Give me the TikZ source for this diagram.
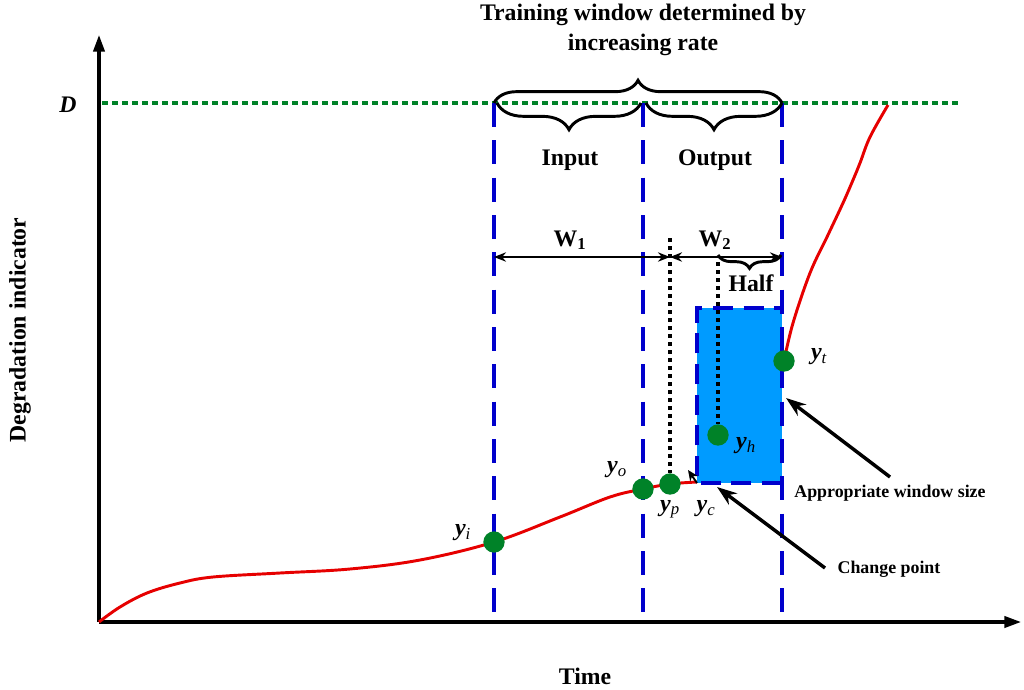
\documentclass[tikz,border=0pt]{standalone}
\usepackage{fontspec}
\setmainfont{Liberation Serif}
\usetikzlibrary{arrows.meta,decorations.pathreplacing,calc}
\definecolor{dblue}{RGB}{0,0,204}
\definecolor{boxblue}{RGB}{0,155,255}
\definecolor{dgreen}{RGB}{0,130,40}
\definecolor{dred}{RGB}{230,0,0}
\begin{document}
\begin{tikzpicture}[x=0.75pt,y=-0.75pt,
  axis/.style={line width=2.3pt,-{Triangle[length=12.5pt,width=8.5pt]}},
  bluedash/.style={draw=dblue,line width=2.3pt,dash pattern=on 18pt off 10pt},
  boxdash/.style={draw=dblue,line width=2.3pt,dash pattern=on 15pt off 8pt},
  greendot/.style={draw=dgreen,line width=2.3pt,dash pattern=on 4.5pt off 3pt},
  blackdot/.style={draw=black,line width=2.6pt,dash pattern=on 3pt off 3pt},
  curve/.style={draw=dred,line width=2.2pt},
  dot/.style={circle,fill=dgreen,minimum size=16pt,inner sep=0pt},
  bigtext/.style={font=\fontsize{17.8}{23}\selectfont\bfseries},
  smalltext/.style={font=\fontsize{13.4}{16}\selectfont\bfseries},
  ylab/.style={font=\fontsize{18}{20}\selectfont\bfseries\itshape},
  warrow/.style={line width=1.8pt,{Stealth[length=9pt,width=7pt]}-{Stealth[length=9pt,width=7pt]}},
  annarrow/.style={line width=2.6pt,-{Stealth[length=15pt,width=10.5pt]}},
  bracedown/.style={draw,line width=2.2pt,decorate,decoration={brace,mirror,amplitude=#1}},
  braceup/.style={draw,line width=2.2pt,decorate,decoration={brace,amplitude=#1}}
]
\useasboundingbox (0,0) rectangle (1024,689);

% axes
\coordinate (O) at (99,622);
\coordinate (ytip) at (99,35);
\coordinate (xtip) at (1021,622);
\draw[axis] (O) -- (ytip);
\draw[axis] (O) -- (xtip);

% D threshold
\coordinate (Dl) at (102,103);
\coordinate (Dr) at (958,103);
\draw[greendot] (Dl) -- (Dr);
\node[font=\fontsize{17.8}{20}\selectfont\bfseries\itshape] (Dlab) at (68,105) {D};

% red curve
\draw[curve] plot[smooth,tension=0.6] coordinates {(99,622) (120,607) (147,593) (180,583) (213,577) (280,573) (350,569) (420,560) (494,542) (560,517) (610,497) (643,489) (670,484) (697,482)};
\draw[curve] plot[smooth,tension=0.6] coordinates {(784,361) (793,323) (810,273) (827,237) (843,203) (853,180) (860,163) (870,137) (888,105)};

% blue box
\coordinate (b1) at (697,308);
\coordinate (b2) at (782,483);
\fill[boxblue] (b1) rectangle (b2);
\draw[boxdash] (b2) -- (697,483) -- (697,308) -- (782,308);

% blue vertical dashed lines
\foreach \x/\n in {494/a,643/b,782/c}{
  \coordinate (v\n top) at (\x,103);
  \coordinate (v\n bot) at (\x,612);
  \draw[bluedash] (v\n top) -- (v\n bot);
}

% braces
\draw[braceup=17pt] (494,103) -- (782,103);
\draw[bracedown=20pt] (497,103) -- (641,103);
\draw[bracedown=20pt] (646,103) -- (782,103);
\draw[bracedown=10pt] (718,255) -- (781,255);

% texts
\node[bigtext,align=center] (title) at (643,30) {Training window determined by\\increasing rate};
\node[bigtext] (input) at (570,160) {Input};
\node[bigtext] (output) at (715,160) {Output};
\node[bigtext] (w1) at (570,240) {W\textsubscript{1}};
\node[bigtext] (w2) at (715,240) {W\textsubscript{2}};
\node[bigtext] (half) at (751,283) {Half};

% W arrows
\coordinate (wl) at (494,257);
\coordinate (wm) at (670,257);
\coordinate (wr) at (782,257);
\draw[warrow] (wl) -- (wm);
\draw[warrow] (wm) -- (wr);

% points
\node[dot] (yi) at (494,542) {};
\node[dot] (yo) at (643,489) {};
\node[dot] (yp) at (670,484) {};
\node[dot] (yh) at (718,435) {};
\node[dot] (yt) at (784,361) {};
\coordinate (pt) at (670,238);
\coordinate (ht) at (718,262);
\draw[blackdot] (pt) -- (yp.north);
\draw[blackdot] (ht) -- (yh.north);

\node[ylab] (li) at (463,533) {y\textsubscript{\mdseries i}};
\node[ylab] (lo) at (617,470) {y\textsubscript{\mdseries o}};
\node[ylab] (lp) at (670,509) {y\textsubscript{\mdseries p}};
\node[ylab] (lc) at (706,509) {y\textsubscript{\mdseries c}};
\node[ylab] (lh) at (746,446) {y\textsubscript{\mdseries h}};
\node[ylab] (lt) at (819,357) {y\textsubscript{\mdseries t}};

% small arrow at change point
\coordinate (yc) at (697,483);
\coordinate (yctip) at (688,470);
\draw[line width=1.4pt,-{Stealth[length=8pt,width=7pt]}] (yc) -- (yctip);

% annotations
\node[smalltext] (aws) at (890,493) {Appropriate window size};
\node[smalltext] (cp) at (889,569) {Change point};
\coordinate (awst) at (890,477);
\coordinate (awsh) at (786,398);
\coordinate (cpt) at (825,568);
\coordinate (cph) at (717,487);
\draw[annarrow] (awst) -- (awsh);
\draw[annarrow] (cpt) -- (cph);

\node[bigtext] (time) at (585,676) {Time};
\node[bigtext,rotate=90] (deg) at (20,330) {Degradation indicator};
\end{tikzpicture}
\end{document}
